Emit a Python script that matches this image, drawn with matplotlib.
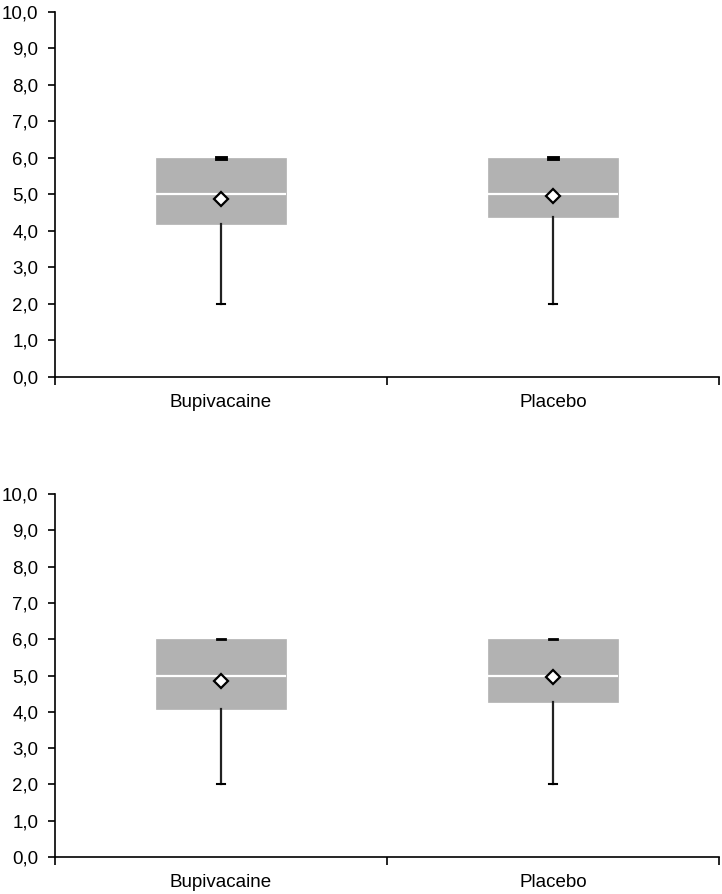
import matplotlib
matplotlib.use("Agg")
from matplotlib import pyplot as plt
from matplotlib.ticker import FixedLocator, FuncFormatter

plt.rcParams['font.family'] = ['Liberation Sans', 'DejaVu Sans']

# Data
groups = ['Bupivacaine', 'Placebo']

top_q1 = [4.18, 4.37]
top_med = [5.0, 5.0]
top_q3 = [6.0, 6.0]
top_lo = [2.0, 2.0]
top_hi = [6.0, 6.0]
top_mean = [4.87, 4.97]

bot_q1 = [4.08, 4.28]
bot_med = [5.0, 5.0]
bot_q3 = [6.0, 6.0]
bot_lo = [2.0, 2.0]
bot_hi = [6.0, 6.0]
bot_mean = [4.86, 4.97]

yticks = [0, 1, 2, 3, 4, 5, 6, 7, 8, 9, 10]

box_grey = '#b2b2b2'


def make_stats(q1, med, q3, lo, hi, mean):
    return [dict(label=g, q1=q1[i], med=med[i], q3=q3[i], whislo=lo[i],
                 whishi=hi[i], mean=mean[i], fliers=[])
            for i, g in enumerate(groups)]


def draw_panel(ax, stats, top_cap_lw):
    pos = list(range(1, len(groups) + 1))
    res = ax.bxp(stats, positions=pos, widths=0.39, patch_artist=True,
                 showmeans=True, showfliers=False, capwidths=0.026,
                 boxprops=dict(facecolor=box_grey, edgecolor=box_grey, linewidth=0.5),
                 medianprops=dict(color='white', linewidth=1.6),
                 whiskerprops=dict(color='#222222', linewidth=1.6),
                 capprops=dict(color='black', linewidth=1.5),
                 meanprops=dict(marker='D', markerfacecolor='white',
                                markeredgecolor='black', markersize=7.5,
                                markeredgewidth=1.6))
    # upper caps sit on top of the box and are drawn heavier
    for i, cap in enumerate(res['caps']):
        cap.set_zorder(3)
        if i % 2 == 1:
            cap.set_linewidth(top_cap_lw)
    for m in res['means']:
        m.set_zorder(4)

    ax.set_xlim(0.5, len(groups) + 0.5)
    ax.set_ylim(0, 10)
    ax.yaxis.set_major_locator(FixedLocator(yticks))
    ax.yaxis.set_major_formatter(FuncFormatter(lambda v, p: f"{v:.1f}".replace('.', ',')))
    ax.set_xticks(pos)
    ax.set_xticklabels(groups)
    ax.set_xticks([p + 0.5 for p in range(len(groups) + 1)], minor=True)
    ax.tick_params(axis='x', which='major', length=0, pad=12, labelsize=13.5)
    ax.tick_params(axis='x', which='minor', length=6, width=1.2, direction='out')
    ax.tick_params(axis='y', length=5, width=1.2, direction='out', labelsize=13.5, pad=7)

    for s in ['top', 'right']:
        ax.spines[s].set_visible(False)
    for s in ['left', 'bottom']:
        ax.spines[s].set_linewidth(1.2)
        ax.spines[s].set_color('black')


fig = plt.figure(figsize=(7.22, 8.94), dpi=100)
ax1 = fig.add_axes([0.0762, 0.5783, 0.9196, 0.4083])
ax2 = fig.add_axes([0.0762, 0.0414, 0.9196, 0.4060])

draw_panel(ax1, make_stats(top_q1, top_med, top_q3, top_lo, top_hi, top_mean), 3.5)
draw_panel(ax2, make_stats(bot_q1, bot_med, bot_q3, bot_lo, bot_hi, bot_mean), 2.0)

fig.savefig('out.png', dpi=100)
